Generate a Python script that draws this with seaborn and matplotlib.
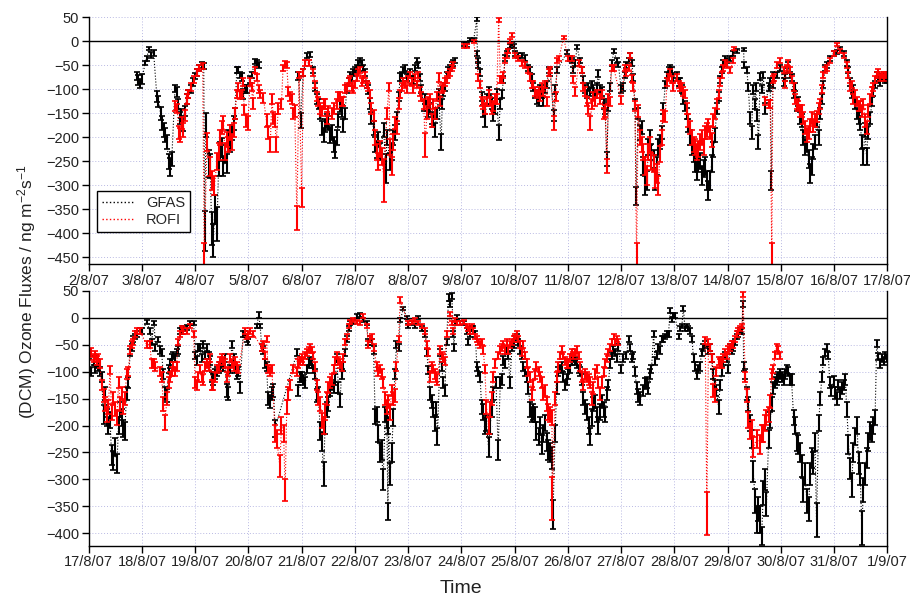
import numpy as np
import pandas as pd
import matplotlib
matplotlib.use("Agg")
import matplotlib.pyplot as plt
import matplotlib.dates as mdates
from matplotlib.lines import Line2D
import seaborn as sns

# (days after panel start, flux, error); None = gap in the record
top_gfas = [
    (0.90, -72, 8), (0.93, -80, 10), (0.96, -88, 10), (1.00, -78, 10), (1.06, -45, 5), (1.09, -35, 5),
    (1.13, -15, 4), (1.17, -28, 6), (1.22, -25, 6), (1.28, -115, 12), (1.31, -125, 12), (1.35, -150, 14),
    (1.38, -170, 15), (1.41, -185, 15), (1.44, -195, 14), (1.47, -210, 15), (1.50, -250, 16), (1.53, -262, 18),
    (1.56, -245, 15), (1.62, -98, 8), (1.65, -105, 10), (1.68, -130, 10), (1.71, -160, 12), (1.74, -150, 10),
    (1.77, -175, 12), (1.80, -145, 10), (1.84, -120, 10), (1.87, -110, 8), (1.93, -100, 8), (1.96, -85, 8),
    (2.00, -72, 7), (2.03, -65, 7), (2.08, -55, 6), (2.12, -50, 6), (2.16, -52, 6), (2.18, -395, 42),
    (2.20, -175, 25), (2.25, -255, 28), (2.28, -260, 25), (2.31, -390, 35), (2.34, -415, 35), (2.37, -350, 30),
    (2.41, -380, 35), (2.44, -260, 20), (2.47, -230, 20), (2.50, -220, 18), (2.53, -260, 20), (2.56, -235, 18),
    (2.59, -255, 20), (2.62, -200, 15), (2.65, -215, 15), (2.69, -190, 15), (2.72, -170, 15), (2.75, -150, 12),
    (2.78, -60, 7), (2.81, -60, 7), (2.84, -70, 7), (2.87, -75, 8), (2.90, -110, 10), (2.94, -100, 8),
    (2.97, -100, 8), (3.03, -80, 7), (3.06, -70, 7), (3.12, -42, 6), (3.16, -45, 6), (3.19, -50, 6),
    None,
    (3.94, -72, 8), (3.98, -165, 15), (4.03, -65, 7), (4.10, -30, 5), (4.16, -28, 5), (4.22, -60, 7),
    (4.25, -95, 8), (4.28, -120, 10), (4.32, -130, 10), (4.35, -150, 12), (4.38, -180, 15), (4.41, -195, 15),
    (4.44, -175, 14), (4.47, -165, 14), (4.50, -170, 14), (4.53, -195, 16), (4.56, -190, 15), (4.60, -215, 16),
    (4.63, -225, 18), (4.66, -200, 15), (4.69, -165, 13), (4.72, -135, 12), (4.75, -145, 12), (4.78, -175, 14),
    (4.81, -150, 12), (4.85, -100, 8), (4.88, -85, 8), (4.91, -70, 7), (4.94, -75, 7), (4.97, -65, 7),
    (5.00, -60, 6), (5.03, -55, 6), (5.06, -45, 6), (5.10, -40, 5), (5.13, -45, 6), (5.16, -55, 6),
    (5.19, -65, 7), (5.22, -90, 8), (5.25, -100, 9), (5.28, -130, 11), (5.31, -160, 13), (5.35, -180, 15),
    (5.38, -215, 16), (5.41, -225, 18), (5.44, -205, 16), (5.47, -230, 18), (5.54, -185, 15), (5.58, -265, 30),
    (5.60, -200, 15), (5.66, -250, 18), (5.69, -230, 18), (5.72, -200, 15), (5.75, -190, 15), (5.79, -160, 13),
    (5.82, -115, 10), (5.85, -75, 8), (5.88, -70, 7), (5.91, -60, 7), (5.94, -55, 6), (5.97, -75, 7),
    (6.00, -70, 7), (6.04, -65, 7), (6.07, -80, 8), (6.10, -80, 8), (6.13, -55, 6), (6.16, -40, 5),
    (6.19, -50, 6), (6.22, -75, 7), (6.25, -100, 8), (6.29, -135, 10), (6.32, -120, 10), (6.35, -135, 10),
    (6.38, -145, 12), (6.41, -140, 12), (6.44, -160, 13), (6.47, -165, 14), (6.50, -185, 15), (6.54, -150, 12),
    (6.57, -110, 10), (6.62, -210, 16), (6.64, -130, 10), (6.66, -105, 9), (6.69, -95, 8), (6.72, -70, 7),
    (6.75, -60, 6), (6.79, -55, 6), (6.82, -50, 6), (6.85, -45, 6), (6.88, -40, 5),
    None,
    (7.04, -5, 4), (7.10, -8, 4), (7.16, 4, 3), (7.23, 3, 3), (7.29, 46, 4), (7.30, -25, 5),
    (7.31, -40, 6), (7.32, -50, 6), (7.35, -65, 7), (7.38, -115, 10), (7.41, -145, 12), (7.44, -165, 14),
    (7.48, -120, 10), (7.51, -105, 9), (7.54, -120, 10), (7.57, -130, 11), (7.60, -155, 12), (7.63, -140, 12),
    (7.66, -110, 10), (7.70, -190, 15), (7.73, -130, 10), (7.76, -110, 9), (7.79, -80, 7), (7.82, -35, 6),
    (7.85, -25, 5), (7.88, -20, 5), (7.92, -10, 4), (7.95, -5, 4), (7.98, -10, 4), (8.01, -25, 5),
    (8.07, -30, 5), (8.13, -30, 5), (8.20, -35, 6), (8.26, -55, 6), (8.29, -60, 7), (8.32, -75, 7),
    (8.35, -95, 8), (8.38, -110, 9), (8.42, -120, 10), (8.45, -125, 10), (8.48, -100, 8), (8.51, -110, 9),
    (8.54, -125, 10), (8.57, -100, 8), (8.60, -90, 8), (8.64, -60, 7), (8.67, -65, 7), (8.73, -155, 12),
    (8.76, -100, 9), (8.80, -60, 7), (8.98, -23, 4), (9.04, -35, 5), (9.07, -40, 6), (9.10, -60, 7),
    (9.14, -45, 6), (9.17, -12, 4), (9.23, -40, 6), (9.26, -60, 7), (9.29, -80, 7), (9.32, -100, 8),
    (9.35, -110, 9), (9.38, -95, 8), (9.42, -105, 9), (9.45, -90, 8), (9.48, -100, 8), (9.51, -110, 9),
    (9.54, -95, 8), (9.57, -67, 7), (9.60, -100, 8), (9.64, -105, 9), (9.67, -130, 10), (9.70, -140, 11),
    (9.73, -245, 15), (9.76, -135, 11), (9.79, -95, 8), (9.83, -45, 6), (9.86, -20, 4), (9.92, -40, 5),
    (9.95, -48, 5), (10.00, -100, 8), (10.04, -95, 8), (10.07, -70, 7), (10.10, -50, 6), (10.14, -40, 5),
    (10.17, -30, 5), (10.20, -45, 6), (10.23, -75, 7), (10.26, -130, 10), (10.28, -322, 18), (10.32, -150, 12),
    (10.36, -190, 15), (10.39, -180, 14), (10.42, -260, 18), (10.45, -300, 20), (10.48, -290, 20), (10.51, -220, 16),
    (10.54, -200, 15), (10.57, -230, 17), (10.61, -245, 18), (10.64, -290, 20), (10.67, -260, 18), (10.70, -220, 16),
    (10.73, -210, 15), (10.76, -190, 14), (10.79, -140, 11), (10.83, -90, 8), (10.86, -70, 7), (10.89, -60, 7),
    (10.92, -55, 6), (10.95, -60, 7), (10.98, -75, 7), (11.04, -70, 7), (11.08, -85, 8), (11.11, -85, 8),
    (11.14, -100, 8), (11.17, -120, 10), (11.20, -135, 11), (11.23, -150, 12), (11.26, -175, 14), (11.29, -200, 15),
    (11.33, -220, 16), (11.36, -235, 17), (11.39, -255, 18), (11.42, -270, 18), (11.45, -255, 18), (11.48, -250, 17),
    (11.51, -280, 20), (11.55, -265, 18), (11.58, -260, 18), (11.61, -290, 20), (11.64, -310, 20), (11.67, -290, 20),
    (11.70, -255, 18), (11.73, -225, 16), (11.76, -195, 14), (11.80, -140, 11), (11.83, -115, 10), (11.86, -80, 7),
    (11.89, -60, 7), (11.92, -45, 6), (11.95, -35, 5), (11.98, -40, 5), (12.05, -35, 5), (12.11, -25, 5),
    (12.17, -20, 4), (12.30, -17, 3), (12.31, -50, 6), (12.36, -60, 7), (12.39, -95, 8), (12.42, -160, 12),
    (12.45, -190, 14), (12.48, -100, 9), (12.51, -130, 10), (12.53, -95, 8), (12.55, -155, 12), (12.58, -210, 15),
    (12.61, -73, 7), (12.64, -100, 8), (12.67, -70, 7), (12.70, -140, 11), (12.77, -95, 8), (12.80, -85, 8),
    (12.82, -290, 20), (12.85, -90, 8), (12.86, -70, 7), (12.93, -70, 7), (12.99, -55, 6), (13.05, -85, 8),
    (13.08, -75, 7), (13.11, -60, 7), (13.14, -50, 6), (13.17, -70, 7), (13.20, -75, 7), (13.24, -110, 9),
    (13.27, -95, 8), (13.30, -135, 11), (13.33, -125, 10), (13.36, -160, 12), (13.39, -165, 13), (13.42, -200, 15),
    (13.46, -220, 16), (13.49, -215, 16), (13.52, -245, 18), (13.55, -275, 20), (13.58, -260, 18), (13.61, -230, 16),
    (13.64, -210, 15), (13.67, -165, 13), (13.71, -200, 15), (13.74, -150, 12), (13.77, -120, 10), (13.80, -90, 8),
    (13.83, -55, 6), (13.86, -50, 6), (13.92, -35, 5), (13.99, -25, 5), (14.05, -22, 4), (14.11, -15, 4),
    (14.18, -25, 5), (14.24, -45, 6), (14.27, -60, 7), (14.30, -85, 8), (14.33, -110, 9), (14.36, -100, 8),
    (14.39, -130, 10), (14.43, -150, 12), (14.46, -160, 13), (14.49, -170, 14), (14.52, -210, 15), (14.55, -240, 18),
    (14.58, -185, 14), (14.61, -240, 18), (14.64, -190, 14), (14.68, -160, 13), (14.71, -125, 10), (14.74, -105, 9),
    (14.77, -90, 8), (14.80, -70, 7), (14.83, -80, 7), (14.86, -85, 8), (14.90, -75, 7), (14.93, -70, 7),
    (14.96, -80, 7), (14.99, -80, 7),
]

top_rofi = [
    (1.62, -135, 10), (1.66, -140, 10), (1.69, -190, 14), (1.72, -195, 14), (1.75, -170, 12), (1.77, -185, 14),
    (1.80, -155, 12), (1.84, -120, 10), (1.87, -110, 9), (1.93, -95, 8), (1.97, -80, 7), (2.03, -65, 7),
    (2.08, -55, 6), (2.14, -52, 6), (2.17, -455, 35), (2.22, -210, 18), (2.28, -260, 20), (2.31, -290, 20),
    (2.36, -300, 20), (2.41, -250, 18), (2.44, -230, 18), (2.47, -200, 15), (2.50, -180, 14), (2.53, -170, 14),
    (2.56, -230, 18), (2.59, -205, 16), (2.62, -215, 16), (2.65, -190, 15), (2.69, -210, 16), (2.72, -185, 14),
    (2.75, -150, 12), (2.78, -110, 9), (2.80, -95, 8), (2.84, -112, 9), (2.87, -110, 9), (2.90, -85, 8),
    (2.92, -143, 11), (2.95, -165, 13), (2.99, -170, 14), (3.03, -85, 8), (3.06, -95, 8), (3.08, -130, 11),
    (3.12, -60, 7), (3.16, -75, 7), (3.19, -100, 8), (3.22, -110, 9), (3.28, -118, 10), (3.34, -165, 13),
    (3.37, -190, 14), (3.41, -215, 16), (3.44, -120, 10), (3.47, -160, 13), (3.50, -165, 13), (3.52, -215, 16),
    (3.56, -140, 11), (3.62, -130, 10), (3.65, -55, 6), (3.68, -48, 6), (3.72, -50, 6), (3.75, -105, 9),
    (3.78, -115, 10), (3.81, -120, 10), (3.84, -150, 12), (3.87, -145, 12), (3.91, -368, 25), (3.95, -70, 7),
    (4.00, -325, 20), (4.03, -65, 7), (4.07, -45, 6), (4.13, -45, 6), (4.22, -65, 7), (4.25, -90, 8),
    (4.28, -115, 10), (4.31, -125, 10), (4.35, -140, 11), (4.38, -145, 11), (4.41, -130, 10), (4.44, -130, 10),
    (4.47, -160, 12), (4.50, -145, 11), (4.56, -150, 12), (4.60, -140, 11), (4.66, -130, 10), (4.69, -115, 10),
    (4.72, -115, 10), (4.75, -125, 10), (4.78, -125, 10), (4.81, -100, 8), (4.85, -95, 8), (4.88, -85, 8),
    (4.91, -80, 7), (4.94, -95, 8), (4.97, -100, 8), (5.00, -90, 8), (5.03, -75, 7), (5.06, -65, 7),
    (5.10, -60, 6), (5.13, -85, 8), (5.16, -80, 7), (5.19, -70, 7), (5.22, -90, 8), (5.25, -95, 8),
    (5.28, -110, 9), (5.31, -140, 11), (5.35, -155, 12), (5.38, -200, 15), (5.41, -230, 17), (5.44, -250, 18),
    (5.47, -225, 17), (5.50, -240, 18), (5.55, -290, 45), (5.60, -150, 12), (5.64, -95, 8), (5.66, -220, 16),
    (5.69, -260, 18), (5.72, -210, 16), (5.75, -170, 13), (5.79, -180, 14), (5.82, -130, 11), (5.85, -110, 9),
    (5.88, -95, 8), (5.91, -85, 8), (5.94, -90, 8), (5.97, -100, 8), (6.00, -80, 7), (6.04, -70, 7),
    (6.07, -85, 8), (6.10, -100, 8), (6.13, -75, 7), (6.16, -90, 8), (6.19, -70, 7), (6.22, -105, 9),
    (6.25, -115, 10), (6.29, -130, 10), (6.32, -215, 25), (6.35, -150, 12), (6.38, -125, 10), (6.41, -120, 10),
    (6.44, -165, 13), (6.47, -130, 10), (6.50, -150, 12), (6.54, -115, 10), (6.57, -75, 10), (6.60, -125, 10),
    (6.63, -100, 8), (6.66, -95, 8), (6.69, -85, 8), (6.72, -80, 7), (6.75, -70, 7), (6.79, -65, 7),
    (6.82, -55, 6), (6.85, -50, 6),
    None,
    (7.04, -10, 4), (7.10, -10, 4), (7.23, 0, 3), (7.32, -75, 7), (7.35, -90, 8), (7.38, -125, 10),
    (7.41, -130, 10), (7.44, -140, 11), (7.48, -125, 10), (7.51, -110, 9), (7.54, -125, 10), (7.57, -140, 11),
    (7.60, -135, 11), (7.63, -120, 10), (7.66, -120, 10), (7.70, 45, 4), (7.73, -80, 7), (7.76, -80, 7),
    (7.79, -70, 7), (7.82, -40, 6), (7.85, -30, 5), (7.88, -20, 5), (7.92, 0, 4), (7.95, 13, 4),
    (8.01, -30, 5), (8.07, -35, 5), (8.13, -45, 6), (8.20, -50, 6), (8.26, -60, 7), (8.29, -75, 7),
    (8.32, -90, 8), (8.35, -90, 8), (8.38, -105, 9), (8.42, -110, 9), (8.45, -105, 9), (8.48, -115, 10),
    (8.51, -95, 8), (8.54, -105, 9), (8.57, -90, 8), (8.60, -125, 10), (8.64, -65, 7), (8.67, -60, 7),
    (8.74, -170, 14), (8.77, -115, 10), (8.80, -40, 6), (8.83, -35, 5), (8.92, 8, 3), (9.00, -35, 5),
    (9.07, -35, 5), (9.10, -80, 7), (9.14, -105, 9), (9.20, -45, 6), (9.26, -60, 7), (9.29, -95, 8),
    (9.32, -105, 9), (9.35, -125, 10), (9.38, -140, 11), (9.42, -170, 14), (9.45, -130, 10), (9.48, -115, 10),
    (9.51, -125, 10), (9.54, -110, 9), (9.60, -120, 10), (9.64, -110, 9), (9.67, -150, 12), (9.70, -145, 12),
    (9.73, -260, 15), (9.76, -120, 10), (9.79, -125, 10), (9.82, -55, 6), (9.86, -55, 6), (10.00, -122, 8),
    (10.07, -55, 6), (10.10, -65, 7), (10.14, -55, 6), (10.17, -30, 5), (10.20, -77, 7), (10.23, -95, 8),
    (10.26, -135, 11), (10.29, -455, 35), (10.32, -145, 12), (10.36, -200, 15), (10.39, -215, 16), (10.42, -230, 17),
    (10.45, -260, 18), (10.48, -280, 20), (10.51, -230, 17), (10.54, -215, 16), (10.57, -250, 18), (10.61, -255, 18),
    (10.64, -285, 20), (10.67, -275, 20), (10.70, -300, 20), (10.73, -235, 17), (10.76, -200, 15), (10.79, -155, 12),
    (10.83, -157, 12), (10.86, -85, 8), (10.89, -75, 7), (10.92, -65, 7), (10.95, -80, 7), (10.98, -95, 8),
    (11.04, -75, 7), (11.08, -90, 8), (11.11, -95, 8), (11.14, -95, 8), (11.17, -105, 9), (11.20, -110, 9),
    (11.23, -140, 11), (11.26, -165, 13), (11.29, -180, 14), (11.33, -200, 15), (11.36, -215, 16), (11.39, -220, 16),
    (11.42, -230, 17), (11.45, -225, 17), (11.48, -210, 16), (11.51, -200, 15), (11.55, -220, 16), (11.58, -190, 14),
    (11.61, -185, 14), (11.64, -175, 14), (11.67, -190, 14), (11.70, -205, 15), (11.73, -165, 13), (11.76, -150, 12),
    (11.80, -130, 10), (11.83, -110, 9), (11.86, -85, 8), (11.89, -70, 7), (11.92, -55, 6), (11.95, -45, 6),
    (11.98, -50, 6), (12.05, -60, 7), (12.11, -40, 6), (12.12, -15, 4),
    None,
    (12.70, -125, 8), (12.77, -130, 8), (12.80, -130, 8), (12.83, -455, 35), (12.85, -80, 7), (12.88, -75, 7),
    (12.93, -50, 6), (12.99, -40, 5), (13.05, -60, 7), (13.08, -90, 8), (13.11, -55, 6), (13.14, -45, 6),
    (13.17, -60, 7), (13.20, -80, 7), (13.24, -95, 8), (13.27, -120, 10), (13.30, -130, 10), (13.33, -135, 11),
    (13.36, -145, 12), (13.39, -145, 12), (13.42, -160, 13), (13.46, -180, 14), (13.49, -195, 15), (13.52, -190, 14),
    (13.55, -175, 14), (13.58, -160, 13), (13.61, -175, 14), (13.64, -165, 13), (13.67, -157, 12), (13.71, -140, 12),
    (13.74, -130, 10), (13.77, -100, 8), (13.80, -70, 7), (13.83, -60, 7), (13.86, -55, 6), (13.92, -40, 5),
    (13.99, -25, 5), (14.05, -7, 3), (14.11, -20, 4), (14.18, -30, 5), (14.24, -50, 6), (14.27, -70, 7),
    (14.30, -95, 8), (14.33, -90, 8), (14.36, -120, 10), (14.39, -110, 9), (14.43, -125, 10), (14.46, -135, 11),
    (14.49, -135, 11), (14.52, -145, 12), (14.55, -130, 10), (14.58, -165, 13), (14.61, -180, 14), (14.64, -145, 12),
    (14.68, -120, 10), (14.71, -105, 9), (14.74, -95, 8), (14.77, -80, 7), (14.80, -70, 7), (14.83, -65, 7),
    (14.86, -75, 7), (14.90, -70, 7), (14.93, -75, 7), (14.96, -70, 7), (14.99, -70, 7),
]

bottom_gfas = [
    (0.00, -85, 8), (0.05, -100, 8), (0.09, -80, 8), (0.12, -95, 8), (0.15, -85, 8), (0.18, -90, 8),
    (0.21, -100, 8), (0.24, -110, 10), (0.28, -180, 18), (0.31, -140, 12), (0.34, -185, 15), (0.37, -200, 16),
    (0.40, -190, 15), (0.43, -255, 18), (0.46, -265, 18), (0.49, -240, 16), (0.53, -270, 18), (0.56, -200, 15),
    (0.59, -170, 14), (0.62, -185, 15), (0.65, -205, 16), (0.68, -210, 16), (0.71, -140, 12), (0.74, -120, 10),
    (0.78, -65, 7), (0.81, -55, 6), (0.84, -40, 6), (0.87, -35, 5), (0.90, -30, 5), (0.96, -25, 5),
    (1.00, -25, 5), (1.09, -8, 3), (1.15, -25, 5), (1.18, -45, 6), (1.23, -10, 3), (1.25, -55, 6),
    (1.31, -40, 5), (1.34, -60, 7), (1.37, -65, 7), (1.40, -105, 9), (1.43, -140, 12), (1.47, -145, 12),
    (1.50, -95, 8), (1.53, -85, 8), (1.56, -75, 7), (1.59, -70, 7), (1.62, -75, 7), (1.65, -65, 7),
    (1.68, -60, 7), (1.72, -25, 5), (1.75, -25, 5), (1.78, -20, 4), (1.84, -18, 4), (1.90, -10, 3),
    (1.97, -10, 3), (2.00, -70, 7), (2.03, -80, 8), (2.06, -55, 6), (2.09, -55, 6), (2.12, -75, 7),
    (2.15, -50, 6), (2.19, -70, 7), (2.22, -55, 6), (2.25, -70, 7), (2.28, -80, 8), (2.31, -110, 10),
    (2.34, -115, 10), (2.37, -105, 9), (2.40, -100, 9), (2.44, -95, 8), (2.47, -90, 8), (2.50, -85, 8),
    (2.53, -90, 8), (2.56, -75, 7), (2.59, -135, 12), (2.62, -140, 12), (2.65, -95, 8), (2.69, -50, 6),
    (2.72, -75, 7), (2.75, -95, 8), (2.78, -105, 9), (2.81, -100, 9), (2.84, -130, 10), (2.90, -30, 5),
    (2.94, -30, 5), (2.97, -40, 5), (3.00, -45, 6), (3.16, -15, 4), (3.19, 5, 6), (3.22, -15, 4),
    (3.25, -55, 6), (3.28, -60, 7), (3.31, -85, 8), (3.34, -90, 8), (3.37, -150, 12), (3.40, -155, 12),
    (3.44, -140, 12), (3.47, -135, 12), (3.50, -205, 16), (3.91, -65, 6), (3.94, -135, 10), (3.97, -110, 9),
    (4.00, -110, 9), (4.03, -115, 9), (4.07, -120, 10), (4.10, -95, 8), (4.13, -85, 8), (4.16, -80, 7),
    (4.19, -85, 8), (4.22, -95, 8), (4.25, -105, 9), (4.28, -145, 12), (4.31, -140, 12), (4.35, -210, 16),
    (4.38, -230, 18), (4.41, -290, 22), (4.44, -200, 16), (4.47, -170, 14), (4.50, -160, 13), (4.53, -135, 11),
    (4.56, -125, 10), (4.60, -130, 10), (4.63, -115, 10), (4.66, -75, 7), (4.69, -130, 10), (4.72, -153, 12),
    (4.75, -105, 9), (4.78, -90, 8), (4.81, -65, 7), (4.85, -40, 6), (4.88, -20, 4), (4.91, -10, 4),
    (4.97, -8, 4), (5.03, 3, 4), (5.10, 5, 4), (5.16, -5, 4), (5.22, -10, 4), (5.25, -45, 6),
    (5.28, -40, 6), (5.32, -45, 6), (5.35, -60, 7), (5.38, -184, 14), (5.41, -180, 14), (5.44, -215, 16),
    (5.47, -250, 18), (5.50, -245, 18), (5.53, -300, 20), (5.57, -180, 14), (5.60, -190, 15), (5.62, -360, 16),
    (5.63, -200, 15), (5.66, -290, 20), (5.69, -250, 18), (5.72, -185, 15), (5.75, -105, 9), (5.78, -50, 6),
    (5.82, -55, 6), (5.85, -5, 4), (5.91, 17, 3), (5.97, 0, 3), (6.00, -15, 4), (6.07, -10, 4),
    (6.13, -15, 4), (6.19, 0, 3), (6.26, -20, 4), (6.32, -30, 5), (6.35, -65, 7), (6.38, -97, 8),
    (6.41, -140, 12), (6.44, -155, 12), (6.47, -170, 14), (6.50, -195, 15), (6.53, -170, 14), (6.55, -220, 16),
    (6.60, -65, 7), (6.63, -90, 8), (6.66, -120, 10), (6.69, -135, 11), (6.72, -45, 6), (6.76, 37, 6),
    (6.79, 25, 5), (6.82, 40, 5), (6.85, -30, 5), (6.86, -55, 6), (6.88, -10, 4), (6.91, 0, 4),
    (6.97, -10, 4), (7.04, -10, 4), (7.10, -25, 5), (7.13, -45, 6), (7.16, -30, 5), (7.19, -20, 4),
    (7.22, -20, 4), (7.26, -30, 5), (7.29, -90, 8), (7.32, -100, 9), (7.35, -110, 10), (7.38, -165, 13),
    (7.41, -175, 14), (7.44, -200, 15), (7.47, -195, 15), (7.51, -240, 18), (7.54, -200, 15), (7.57, -170, 14),
    (7.60, -140, 12), (7.65, -120, 10), (7.69, -245, 18), (7.73, -120, 10), (7.76, -115, 10), (7.79, -80, 8),
    (7.82, -85, 8), (7.85, -60, 7), (7.88, -70, 7), (7.91, -120, 10), (7.95, -55, 6), (7.98, -50, 6),
    (8.01, -40, 6), (8.04, -35, 5), (8.07, -45, 6), (8.10, -60, 7), (8.13, -70, 7), (8.16, -90, 8),
    (8.20, -100, 9), (8.23, -110, 10), (8.26, -130, 11), (8.29, -170, 14), (8.32, -180, 14), (8.35, -175, 14),
    (8.38, -180, 14), (8.41, -210, 16), (8.45, -220, 16), (8.48, -200, 15), (8.51, -235, 17), (8.54, -215, 16),
    (8.57, -195, 15), (8.60, -230, 17), (8.63, -245, 18), (8.67, -250, 18), (8.70, -260, 20), (8.72, -365, 27),
    (8.76, -215, 16), (8.79, -130, 11), (8.82, -100, 9), (8.85, -95, 8), (8.88, -90, 8), (8.91, -110, 9),
    (8.95, -125, 10), (8.98, -115, 10), (9.01, -105, 9), (9.04, -95, 8), (9.07, -80, 7), (9.10, -75, 7),
    (9.13, -80, 7), (9.17, -85, 8), (9.20, -95, 8), (9.23, -100, 9), (9.26, -115, 10), (9.29, -150, 12),
    (9.32, -165, 13), (9.35, -175, 14), (9.39, -200, 15), (9.42, -220, 16), (9.45, -185, 15), (9.48, -160, 13),
    (9.51, -155, 12), (9.54, -180, 14), (9.57, -200, 15), (9.60, -175, 14), (9.64, -155, 12), (9.67, -170, 14),
    (9.70, -180, 14), (9.73, -140, 12), (9.76, -125, 10), (9.79, -85, 8), (9.82, -70, 7), (9.85, -60, 7),
    (9.89, -65, 7), (9.92, -75, 7), (9.95, -55, 6), (10.00, -95, 8), (10.04, -75, 7), (10.10, -70, 7),
    (10.14, -40, 6), (10.17, -55, 6), (10.20, -75, 7), (10.23, -70, 7), (10.26, -100, 9), (10.29, -130, 11),
    (10.32, -145, 12), (10.36, -150, 12), (10.42, -135, 11), (10.45, -122, 10), (10.48, -120, 10), (10.51, -130, 11),
    (10.54, -105, 9), (10.57, -95, 8), (10.61, -30, 5), (10.64, -80, 7), (10.67, -70, 7), (10.70, -55, 6),
    (10.73, -60, 7), (10.76, -40, 6), (10.79, -40, 6), (10.83, -35, 5), (10.86, -30, 5), (10.89, -30, 5),
    (10.92, 13, 4), (10.95, -5, 4), (10.98, 5, 4), (11.01, 4, 4), (11.08, -35, 5), (11.11, -20, 4),
    (11.14, -15, 4), (11.17, 17, 4), (11.20, -20, 4), (11.23, -15, 4), (11.26, -20, 4), (11.29, -25, 5),
    (11.33, -40, 6), (11.36, -75, 7), (11.39, -90, 8), (11.42, -105, 9), (11.45, -95, 8), (11.48, -91, 8),
    (11.51, -65, 7), (11.54, -55, 6), (11.58, -50, 6), (11.64, -60, 7), (11.67, -55, 6), (11.70, -75, 7),
    (11.73, -105, 9), (11.76, -125, 10), (11.79, -135, 11), (11.83, -165, 13), (11.86, -125, 10), (11.89, -100, 9),
    (11.92, -80, 7), (11.95, -70, 7), (11.98, -75, 7), (12.01, -95, 8), (12.05, -55, 6), (12.08, -60, 7),
    (12.11, -55, 6), (12.14, -45, 6), (12.17, -35, 5), (12.20, -30, 5), (12.23, -25, 5), (12.27, -25, 5),
    (12.29, 25, 6), (12.30, -90, 8), (12.33, -105, 9), (12.36, -140, 12), (12.39, -160, 13), (12.42, -195, 15),
    (12.45, -225, 17), (12.48, -285, 20), (12.52, -340, 22), (12.55, -375, 25), (12.58, -355, 22), (12.61, -375, 25),
    (12.64, -405, 17), (12.67, -325, 22), (12.70, -300, 20), (12.73, -345, 22), (12.77, -225, 17), (12.80, -190, 15),
    (12.83, -160, 13), (12.86, -130, 11), (12.89, -120, 10), (12.92, -115, 10), (12.95, -110, 9), (12.98, -105, 9),
    (13.02, -110, 9), (13.05, -115, 10), (13.08, -105, 9), (13.11, -95, 8), (13.14, -100, 9), (13.17, -115, 10),
    (13.20, -115, 10), (13.24, -185, 14), (13.27, -200, 15), (13.30, -230, 17), (13.33, -235, 17), (13.36, -250, 18),
    (13.39, -275, 20), (13.42, -320, 22), (13.45, -290, 20), (13.49, -340, 22), (13.52, -355, 22), (13.55, -290, 20),
    (13.58, -260, 18), (13.61, -270, 20), (13.64, -230, 17), (13.67, -375, 31), (13.71, -195, 15), (13.74, -150, 12),
    (13.77, -110, 9), (13.80, -80, 7), (13.83, -65, 7), (13.86, -55, 6), (13.89, -70, 7), (13.92, -120, 10),
    (13.95, -135, 11), (13.99, -118, 10), (14.02, -140, 11), (14.05, -150, 12), (14.08, -125, 10), (14.11, -140, 11),
    (14.14, -130, 11), (14.18, -125, 10), (14.21, -115, 10), (14.24, -170, 14), (14.27, -235, 17), (14.30, -280, 20),
    (14.33, -310, 22), (14.36, -250, 18), (14.39, -220, 16), (14.43, -200, 15), (14.46, -270, 20), (14.49, -290, 20),
    (14.52, -390, 32), (14.55, -320, 22), (14.58, -290, 20), (14.61, -260, 18), (14.64, -230, 17), (14.68, -210, 16),
    (14.71, -215, 16), (14.74, -200, 15), (14.77, -185, 14), (14.80, -48, 6), (14.83, -72, 7), (14.86, -85, 8),
    (14.90, -75, 7), (14.93, -80, 7), (14.96, -70, 7), (14.99, -75, 7),
]

bottom_rofi = [
    (0.00, -70, 8), (0.05, -65, 8), (0.09, -75, 8), (0.12, -70, 8), (0.15, -80, 8), (0.18, -75, 8),
    (0.21, -85, 8), (0.24, -125, 10), (0.28, -145, 12), (0.31, -160, 13), (0.34, -180, 14), (0.37, -165, 13),
    (0.40, -97, 8), (0.43, -175, 14), (0.46, -150, 12), (0.49, -170, 13), (0.53, -185, 14), (0.56, -120, 10),
    (0.59, -160, 13), (0.62, -140, 11), (0.65, -165, 13), (0.68, -150, 12), (0.71, -105, 9), (0.74, -100, 9),
    (0.78, -60, 7), (0.81, -50, 6), (0.84, -45, 6), (0.87, -30, 5), (0.90, -25, 5), (0.96, -25, 5),
    (1.09, -50, 6), (1.15, -50, 6), (1.18, -85, 8), (1.23, -85, 8), (1.25, -90, 8), (1.34, -100, 9),
    (1.37, -110, 10), (1.40, -160, 13), (1.43, -195, 14), (1.47, -150, 12), (1.50, -120, 10), (1.53, -110, 10),
    (1.56, -100, 9), (1.59, -90, 8), (1.62, -100, 9), (1.65, -90, 8), (1.68, -45, 6), (1.72, -30, 5),
    (1.75, -20, 4), (1.78, -25, 5), (1.84, -25, 5), (1.90, -15, 4), (1.97, -30, 5), (2.00, -120, 10),
    (2.03, -125, 10), (2.06, -110, 10), (2.09, -95, 8), (2.12, -110, 10), (2.15, -115, 10), (2.19, -90, 8),
    (2.22, -85, 8), (2.25, -90, 8), (2.28, -75, 7), (2.31, -125, 10), (2.34, -125, 10), (2.37, -110, 10),
    (2.40, -95, 8), (2.44, -90, 8), (2.47, -80, 7), (2.50, -75, 7), (2.53, -80, 7), (2.56, -85, 8),
    (2.59, -110, 10), (2.62, -100, 9), (2.65, -75, 7), (2.69, -85, 8), (2.72, -90, 8), (2.75, -80, 7),
    (2.78, -90, 8), (2.81, -95, 8), (2.94, -25, 5), (2.97, -35, 5), (3.00, -30, 5), (3.03, -25, 5),
    (3.09, -30, 5), (3.25, -55, 6), (3.28, -50, 6), (3.31, -70, 7), (3.34, -40, 6), (3.37, -95, 8),
    (3.40, -100, 9), (3.44, -95, 8), (3.50, -215, 16), (3.53, -225, 16), (3.59, -275, 20), (3.62, -200, 15),
    (3.66, -215, 16), (3.69, -320, 20), (3.72, -165, 13), (3.75, -140, 12), (3.78, -125, 10), (3.84, -95, 8),
    (3.91, -100, 8), (3.94, -85, 8), (3.97, -80, 7), (4.00, -75, 7), (4.03, -80, 7), (4.07, -70, 7),
    (4.10, -65, 7), (4.13, -60, 6), (4.16, -55, 6), (4.19, -60, 6), (4.22, -70, 7), (4.25, -90, 8),
    (4.28, -125, 10), (4.31, -150, 12), (4.35, -160, 13), (4.38, -190, 14), (4.41, -200, 15), (4.44, -175, 14),
    (4.47, -150, 12), (4.50, -130, 10), (4.53, -120, 10), (4.56, -115, 10), (4.60, -95, 8), (4.63, -80, 7),
    (4.66, -70, 7), (4.69, -80, 7), (4.72, -85, 8), (4.75, -90, 8), (4.78, -75, 7), (4.81, -45, 6),
    (4.85, -35, 5), (4.88, -15, 4), (4.91, -8, 4), (4.97, -5, 4), (5.03, -8, 4), (5.10, -10, 4),
    (5.16, 3, 3), (5.22, -15, 4), (5.25, -50, 6), (5.28, -40, 6), (5.32, -35, 5), (5.35, -55, 6),
    (5.41, -90, 8), (5.44, -100, 9), (5.47, -95, 8), (5.50, -105, 9), (5.53, -120, 10), (5.57, -150, 12),
    (5.60, -165, 13), (5.63, -155, 12), (5.66, -175, 14), (5.69, -135, 11), (5.72, -150, 12), (5.75, -145, 12),
    (5.78, -90, 8), (5.82, -40, 6), (5.85, 33, 5), (6.00, -10, 4), (6.07, -8, 4), (6.13, -5, 4),
    (6.19, -10, 4), (6.26, -15, 4), (6.32, -25, 5), (6.35, -50, 6), (6.38, -65, 7), (6.41, -110, 10),
    (6.44, -90, 8), (6.47, -95, 8), (6.50, -105, 9), (6.53, -110, 10), (6.55, -115, 10), (6.60, -60, 7),
    (6.63, -70, 7), (6.66, -75, 7), (6.69, -80, 7), (6.72, -30, 5), (6.79, 7, 4), (6.82, -10, 4),
    (6.85, -25, 5), (6.88, -5, 4), (6.91, -10, 4), (6.97, -10, 4), (7.04, -8, 4), (7.10, -15, 4),
    (7.13, -20, 4), (7.16, -25, 5), (7.19, -15, 4), (7.22, -25, 5), (7.26, -35, 5), (7.29, -40, 6),
    (7.32, -45, 6), (7.35, -50, 6), (7.38, -45, 6), (7.41, -60, 7), (7.44, -95, 8), (7.47, -165, 13),
    (7.51, -200, 15), (7.54, -170, 14), (7.57, -150, 12), (7.60, -110, 10), (7.63, -85, 8), (7.69, -70, 7),
    (7.73, -60, 7), (7.76, -55, 6), (7.79, -50, 6), (7.82, -60, 7), (7.85, -45, 6), (7.88, -60, 7),
    (7.91, -50, 6), (7.95, -45, 6), (7.98, -40, 6), (8.01, -35, 5), (8.04, -30, 5), (8.07, -40, 6),
    (8.10, -50, 6), (8.13, -65, 7), (8.16, -50, 6), (8.20, -70, 7), (8.23, -85, 8), (8.26, -100, 9),
    (8.29, -110, 10), (8.32, -140, 12), (8.35, -125, 10), (8.38, -105, 9), (8.41, -90, 8), (8.45, -100, 9),
    (8.48, -110, 10), (8.51, -120, 10), (8.54, -140, 12), (8.57, -135, 11), (8.60, -160, 13), (8.63, -175, 14),
    (8.67, -180, 14), (8.70, -185, 14), (8.71, -335, 40), (8.76, -150, 12), (8.79, -110, 10), (8.82, -90, 8),
    (8.85, -70, 7), (8.88, -60, 7), (8.91, -70, 7), (8.95, -80, 7), (8.98, -85, 8), (9.01, -85, 8),
    (9.04, -75, 7), (9.07, -65, 7), (9.10, -70, 7), (9.13, -65, 7), (9.17, -60, 7), (9.20, -70, 7),
    (9.23, -90, 8), (9.26, -110, 10), (9.29, -125, 10), (9.32, -105, 9), (9.35, -110, 10), (9.39, -115, 10),
    (9.42, -120, 10), (9.45, -150, 12), (9.48, -130, 11), (9.51, -105, 9), (9.54, -95, 8), (9.57, -120, 10),
    (9.60, -140, 12), (9.64, -120, 10), (9.67, -100, 9), (9.70, -85, 8), (9.73, -75, 7), (9.76, -65, 7),
    (9.79, -55, 6), (9.82, -45, 6), (9.86, -35, 5), (9.89, -45, 6), (9.92, -40, 6), (9.95, -45, 6),
    None,
    (11.58, -42, 6), (11.61, -363, 40), (11.64, -45, 6), (11.67, -55, 6), (11.70, -75, 7), (11.73, -135, 12),
    (11.76, -145, 12), (11.79, -100, 9), (11.83, -80, 7), (11.86, -85, 8), (11.89, -85, 8), (11.92, -75, 7),
    (11.95, -65, 7), (11.98, -70, 7), (12.01, -60, 7), (12.05, -55, 6), (12.08, -50, 6), (12.11, -50, 6),
    (12.14, -40, 6), (12.17, -30, 5), (12.20, -25, 5), (12.23, -20, 4), (12.27, -15, 4), (12.29, 43, 5),
    (12.33, -110, 10), (12.36, -145, 12), (12.39, -190, 15), (12.42, -210, 15), (12.45, -205, 15), (12.48, -240, 18),
    (12.55, -225, 17), (12.61, -235, 18), (12.64, -215, 16), (12.67, -215, 16), (12.70, -195, 15), (12.73, -185, 14),
    (12.77, -180, 14), (12.80, -155, 12), (12.83, -105, 9), (12.86, -95, 8), (12.89, -70, 7), (12.92, -55, 6),
    (12.95, -60, 7), (12.98, -70, 7),
]

panels = [
    ("2007-08-02", "2007-08-17", top_gfas, top_rofi, (-464.6, 50), np.arange(50, -451, -50)),
    ("2007-08-17", "2007-09-01", bottom_gfas, bottom_rofi, (-422.8, 50), np.arange(50, -401, -50)),
]


def to_frame(start, rows):
    recs, chunk = [], 0
    for r in rows:
        if r is None:
            chunk += 1
            continue
        recs.append((r[0], r[1], r[2], chunk))
    df = pd.DataFrame(recs, columns=["t", "flux", "err", "chunk"])
    df["time"] = pd.Timestamp(start) + pd.to_timedelta(df["t"], unit="D")
    return df


def draw(ax, df, color):
    sns.lineplot(data=df, x="time", y="flux", units="chunk", estimator=None, color=color,
                 lw=0.8, linestyle=":", ax=ax, legend=False)
    ax.errorbar(df["time"], df["flux"], yerr=df["err"], fmt="none", ecolor=color,
                elinewidth=1.5, capsize=1.9, capthick=1.2)


sns.set_theme(style="white")
plt.rcParams["font.family"] = ["Liberation Sans", "DejaVu Sans"]
plt.rcParams["mathtext.default"] = "regular"

fig = plt.figure(figsize=(9.1, 5.96), dpi=100)
ax_top = fig.add_axes([0.0975, 0.5565, 0.8776, 0.4144])
ax_bot = fig.add_axes([0.0975, 0.0844, 0.8776, 0.4279])

for ax, (start, end, gfas, rofi, ylim, yticks) in zip([ax_top, ax_bot], panels):
    ax.grid(True, color="#b9b9e3", linestyle=(0, (1, 2)), lw=0.7)
    ax.axhline(0, color="black", lw=1)
    draw(ax, to_frame(start, gfas), "black")
    draw(ax, to_frame(start, rofi), "red")
    ax.set_xlim(pd.Timestamp(start), pd.Timestamp(end))
    ax.set_ylim(*ylim)
    ax.set_yticks(yticks)
    ax.xaxis.set_major_locator(mdates.DayLocator())
    ax.xaxis.set_major_formatter(mdates.DateFormatter("%-d/%-m/%y"))
    ax.set_xlabel("")
    ax.set_ylabel("")
    ax.spines["top"].set_visible(False)
    for s in ("left", "bottom", "right"):
        ax.spines[s].set_color("black")
        ax.spines[s].set_linewidth(1)
    ax.tick_params(bottom=True, left=True, direction="out", length=5, width=1,
                   color="black", labelsize=10.5, labelcolor="#222222", pad=2)

handles = [Line2D([], [], color="black", ls=":", lw=1), Line2D([], [], color="red", ls=":", lw=1)]
leg = ax_top.legend(handles, ["GFAS", "ROFI"], loc="lower left", bbox_to_anchor=(0.0104, 0.1296),
                    borderaxespad=0, fancybox=False, edgecolor="black", framealpha=1, fontsize=10.5,
                    handlelength=2.2, labelspacing=0.2, borderpad=0.35)
leg.get_frame().set_linewidth(1)

fig.text(0.0297, 0.51, "(DCM) Ozone Fluxes / ng m$^{-2}$s$^{-1}$", rotation=90,
         ha="center", va="center", fontsize=12.5, color="#222222")
fig.text(0.507, 0.013, "Time", ha="center", va="center", fontsize=14, color="#222222")

fig.savefig("out.png", dpi=100)
